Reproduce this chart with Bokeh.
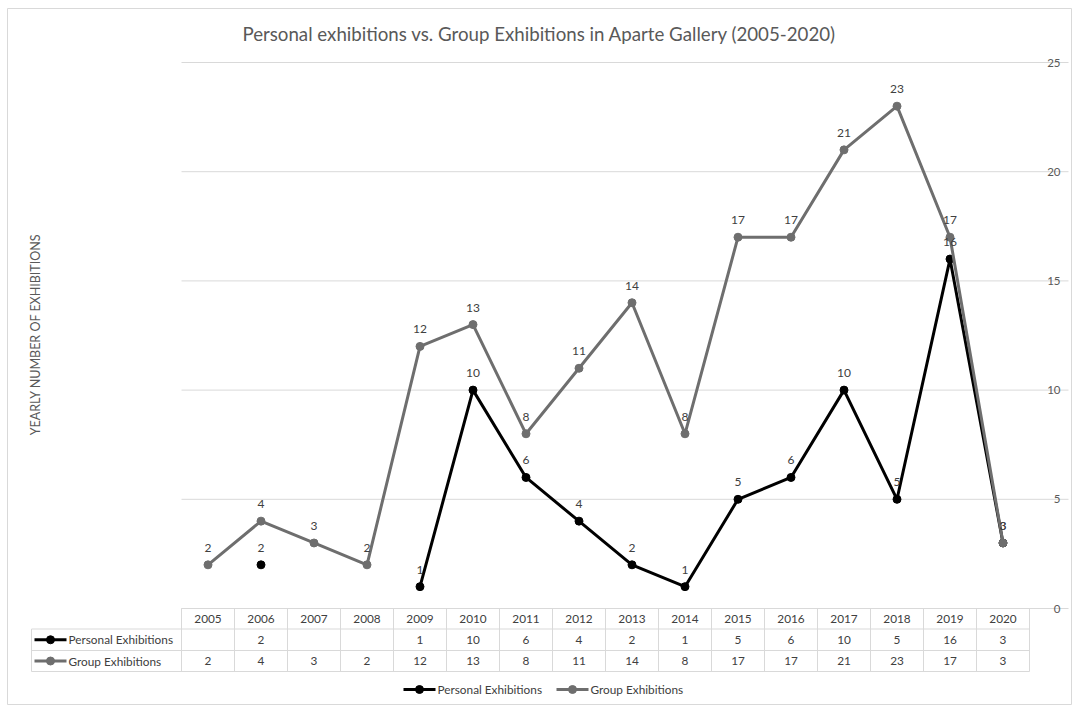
import math
import numpy as np
from bokeh.plotting import figure
from bokeh.models import Range1d
from bokeh.core.properties import value
from bokeh.embed import file_html
from bokeh.resources import INLINE

# ---------------- data ----------------
years = [2005, 2006, 2007, 2008, 2009, 2010, 2011, 2012,
         2013, 2014, 2015, 2016, 2017, 2018, 2019, 2020]
personal = [None, 2, None, None, 1, 10, 6, 4, 2, 1, 5, 6, 10, 5, 16, 3]
group = [2, 4, 3, 2, 12, 13, 8, 11, 14, 8, 17, 17, 21, 23, 17, 3]
y_ticks = [0, 5, 10, 15, 20, 25]
series_names = ["Personal Exhibitions", "Group Exhibitions"]
title_text = "Personal exhibitions vs. Group Exhibitions in Aparte Gallery (2005-2020)"
y_title = "YEARLY NUMBER OF EXHIBITIONS"

# ---------------- layout ----------------
W, H = 1074, 706
OFF = 0                      # canvas origin on the page
X0_PX, STEP = 207.5, 53.0    # page x of first category, category width
Y0_PX, PPU = 608.0, 21.84    # page y of value 0, pixels per unit

def fx(px):
    return years[0] + (px - X0_PX) / STEP

def fy(py):
    return (Y0_PX - py) / PPU

FONT = value("Lato")
C_PERS = "#000000"
C_GRP = "#6e6e6e"
C_GRID = "#d9d9d9"
C_TXT = "#404040"
C_AX = "#595959"

p = figure(width=W, height=H, output_backend="svg", toolbar_location=None,
           x_range=Range1d(fx(OFF), fx(OFF + W)),
           y_range=Range1d(fy(OFF + H), fy(OFF)),
           x_axis_location=None, y_axis_location=None, min_border=0)
p.grid.visible = False
p.outline_line_color = None
p.background_fill_color = "white"
p.border_fill_color = "white"

# chart border
BL, BR, BT, BB = 7, 1071, 8, 704
p.segment(x0=[fx(BL), fx(BL), fx(BL), fx(BR)], y0=[fy(BT), fy(BB), fy(BT), fy(BT)],
          x1=[fx(BR), fx(BR), fx(BL), fx(BR)], y1=[fy(BT), fy(BB), fy(BB), fy(BB)],
          line_color=C_GRID, line_width=1)

pers = np.array([np.nan if v is None else v for v in personal], dtype=float)
grp = np.array(group, dtype=float)
yrs = np.array(years, dtype=float)

# gridlines + right tick labels
p.segment(x0=[fx(181)] * len(y_ticks), y0=y_ticks, x1=[fx(1068)] * len(y_ticks), y1=y_ticks,
          line_color=C_GRID, line_width=1)
p.text(x=[fx(1060)] * len(y_ticks), y=y_ticks, text=[str(t) for t in y_ticks],
       text_font=FONT, text_font_size="11.5px", text_color=C_AX,
       text_align="right", text_baseline="middle")

# series (group drawn on top, as in the original)
p.line(yrs, pers, line_color=C_PERS, line_width=3)
p.scatter(yrs, pers, size=8, color=C_PERS)
p.line(yrs, grp, line_color=C_GRP, line_width=3)
p.scatter(yrs, grp, size=8, color=C_GRP)

# data labels
lab_off = 17 / PPU
px_ = [y for y, v in zip(years, personal) if v is not None]
pv_ = [v for v in personal if v is not None]
p.text(x=px_, y=[v + lab_off for v in pv_], text=[str(v) for v in pv_],
       text_font=FONT, text_font_size="12px", text_color=C_TXT,
       text_align="center", text_baseline="middle")
p.text(x=years, y=[v + lab_off for v in group], text=[str(v) for v in group],
       text_font=FONT, text_font_size="12px", text_color=C_TXT,
       text_align="center", text_baseline="middle")

# title and axis title
p.text(x=[fx(539)], y=[fy(33)], text=[title_text], text_font=FONT,
       text_font_size="18.7px", text_color=C_AX, text_align="center", text_baseline="middle")
p.text(x=[fx(35)], y=[fy(334)], text=[y_title], text_font=FONT, angle=math.pi / 2,
       text_font_size="12.5px", text_color=C_AX, text_align="center", text_baseline="middle")

# data table
T_LEFT, T_COL0, T_RIGHT = 31, 181, 1029
ROWS = [608, 628.5, 650, 671]
hx0 = [fx(T_COL0), fx(T_LEFT), fx(T_LEFT), fx(T_LEFT)]
hx1 = [fx(T_RIGHT)] * 4
p.segment(x0=hx0, y0=[fy(r) for r in ROWS], x1=hx1, y1=[fy(r) for r in ROWS],
          line_color=C_GRID, line_width=1)
vxs = [T_COL0 + STEP * k for k in range(len(years) + 1)]
p.segment(x0=[fx(v) for v in vxs], y0=[fy(ROWS[0])] * len(vxs),
          x1=[fx(v) for v in vxs], y1=[fy(ROWS[-1])] * len(vxs),
          line_color=C_GRID, line_width=1)
p.segment(x0=[fx(T_LEFT)], y0=[fy(ROWS[1])], x1=[fx(T_LEFT)], y1=[fy(ROWS[-1])],
          line_color=C_GRID, line_width=1)

row_c = [(ROWS[i] + ROWS[i + 1]) / 2 for i in range(3)]
TS = "11.8px"
p.text(x=years, y=[fy(row_c[0])] * len(years), text=[str(y) for y in years],
       text_font=FONT, text_font_size=TS, text_color=C_TXT,
       text_align="center", text_baseline="middle")
p.text(x=px_, y=[fy(row_c[1])] * len(px_), text=[str(v) for v in pv_],
       text_font=FONT, text_font_size=TS, text_color=C_TXT,
       text_align="center", text_baseline="middle")
p.text(x=years, y=[fy(row_c[2])] * len(years), text=[str(v) for v in group],
       text_font=FONT, text_font_size=TS, text_color=C_TXT,
       text_align="center", text_baseline="middle")

# legend keys in table header + bottom legend
def key(x_left, y_px, color, name):
    p.segment(x0=[fx(x_left)], y0=[fy(y_px)], x1=[fx(x_left + 32)], y1=[fy(y_px)],
              line_color=color, line_width=3)
    p.scatter([fx(x_left + 16)], [fy(y_px)], size=8, color=color)
    p.text(x=[fx(x_left + 34)], y=[fy(y_px)], text=[name], text_font=FONT,
           text_font_size=TS, text_color=C_TXT, text_align="left", text_baseline="middle")

key(34, row_c[1], C_PERS, series_names[0])
key(34, row_c[2], C_GRP, series_names[1])
key(403, 689, C_PERS, series_names[0])
key(556, 689, C_GRP, series_names[1])

open("out.html", "w").write(file_html(p, INLINE))
